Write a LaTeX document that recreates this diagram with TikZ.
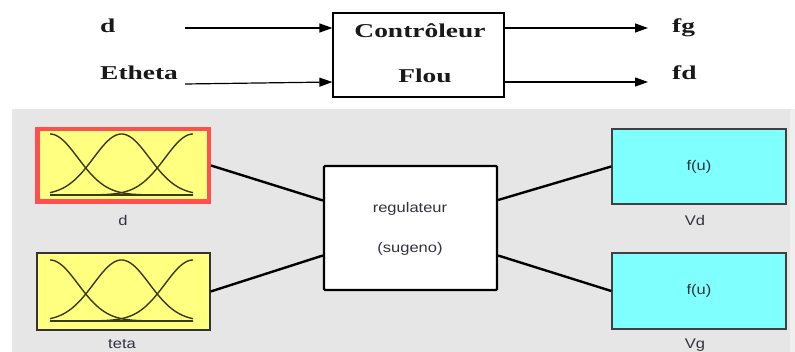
\documentclass[tikz,border=0pt]{standalone}
\usepackage{fontspec}
\usepackage{graphicx}
\setmainfont{Liberation Serif}
\newfontfamily\simfont{Liberation Sans}
\usetikzlibrary{arrows.meta,calc}
\definecolor{panel}{HTML}{E6E6E6}
\definecolor{paneledge}{HTML}{EFEFEF}
\definecolor{mfyellow}{HTML}{FFFF80}
\definecolor{mfred}{HTML}{FF5050}
\definecolor{vcyan}{HTML}{80FFFF}
\definecolor{simtext}{HTML}{333340}
\definecolor{curvecol}{HTML}{3A3A10}
\begin{document}
\begin{tikzpicture}[x=1pt,y=-1pt,
  toptext/.style={inner sep=0pt, font=\fontsize{19.6}{22}\selectfont\bfseries, text=black!90},
  simlabel/.style={inner sep=0pt, font=\simfont\fontsize{14}{16}\selectfont, text=simtext},
  ctrlbox/.style={draw, line width=1.2pt, minimum width=171pt, minimum height=84pt, inner sep=0pt},
  sig/.style={line width=1.2pt, -{Triangle[length=13pt,width=9pt]}},
  mfbox/.style={fill=mfyellow, draw=black!80, line width=1.3pt, inner sep=0pt, minimum width=173pt, minimum height=77pt},
  mfsel/.style={fill=mfyellow, draw=mfred, line width=4.5pt, inner sep=0pt, minimum width=171.5pt, minimum height=72.5pt},
  regbox/.style={fill=white, draw=black, line width=2.2pt, rounded corners=1pt, inner sep=0pt, minimum width=173pt, minimum height=124pt},
  fbox/.style={fill=vcyan, draw=black!75, line width=1.5pt, inner sep=0pt, minimum width=174pt, minimum height=75pt},
  wire/.style={line width=2.4pt, black},
  mfcurve/.style={curvecol, line width=1.4pt}
]
\useasboundingbox (0,0) rectangle (795,352);
% panel
\fill[panel] (12,109) rectangle (790,352);
\fill[paneledge] (790,109) rectangle (795,352);

% ---------- top block diagram ----------
\node[ctrlbox] (ctrl) at (418.5,55) {};
\node[toptext, anchor=base] (tc1) at (420,38) {\scalebox{1.4}[1]{Contrôleur}};
\node[toptext, anchor=base] (tc2) at (425,83) {\scalebox{1.4}[1]{Flou}};

\node[toptext, anchor=base west] (ind) at (100,33) {\scalebox{1.4}[1]{d}};
\node[toptext, anchor=base west] (inth) at (100,80) {\scalebox{1.4}[1]{Etheta}};
\node[toptext, anchor=base west] (outfg) at (672,33) {\scalebox{1.4}[1]{fg}};
\node[toptext, anchor=base west] (outfd) at (672,80) {\scalebox{1.4}[1]{fd}};

\coordinate (s1) at (185,28);
\coordinate (s2) at (185,84);
\coordinate (e1) at (648,28);
\coordinate (e2) at (648,82);
\draw[sig] (s1) -- ([yshift=27pt]ctrl.west);
\draw[sig] (s2) -- ([yshift=-27pt]ctrl.west);
\draw[sig] ([yshift=27pt]ctrl.east) -- (e1);
\draw[sig] ([yshift=-27pt]ctrl.east) -- (e2);

% ---------- Simulink-like fuzzy editor ----------
\node[mfsel] (mfd) at (123,165.5) {};
\node[mfbox] (mft) at (123.5,291.5) {};
\node[regbox] (reg) at (410.5,228) {};
\node[fbox] (vd) at (699,166.5) {};
\node[fbox, minimum height=76pt] (vg) at (699,291) {};

% membership functions
\foreach \by in {195,321}{
  \draw[mfcurve] (50,\by) -- (193,\by);
  \draw[mfcurve] plot[domain=50:193, samples=70, smooth] (\x, {\by-61*exp(-0.5*((\x-50)/28)^2)});
  \draw[mfcurve] plot[domain=50:193, samples=70, smooth] (\x, {\by-61*exp(-0.5*((\x-121.5)/28)^2)});
  \draw[mfcurve] plot[domain=50:193, samples=70, smooth] (\x, {\by-61*exp(-0.5*((\x-193)/28)^2)});
}

% texts
\node[simlabel, anchor=base] (treg) at (410,213) {\scalebox{1.18}[1]{regulateur}};
\node[simlabel, anchor=base] (tsug) at (410,253) {\scalebox{1.18}[1]{(sugeno)}};
\node[simlabel, anchor=base] (tfu1) at (699,171) {\scalebox{1.18}[1]{f(u)}};
\node[simlabel, anchor=base] (tfu2) at (699,295) {\scalebox{1.18}[1]{f(u)}};
\node[simlabel, anchor=base] (ld) at (123,226) {\scalebox{1.18}[1]{d}};
\node[simlabel, anchor=base] (lt) at (122,349) {\scalebox{1.18}[1]{teta}};
\node[simlabel, anchor=base] (lvd) at (695,226) {\scalebox{1.18}[1]{Vd}};
\node[simlabel, anchor=base] (lvg) at (695,349) {\scalebox{1.18}[1]{Vg}};

% wires
\draw[wire] (mfd.east) -- ([yshift=27.5pt]reg.west);
\draw[wire] (mft.east) -- ([yshift=-27.5pt]reg.west);
\draw[wire] ([yshift=28pt]reg.east) -- (vd.west);
\draw[wire] ([yshift=-27.5pt]reg.east) -- (vg.west);
\end{tikzpicture}
\end{document}
